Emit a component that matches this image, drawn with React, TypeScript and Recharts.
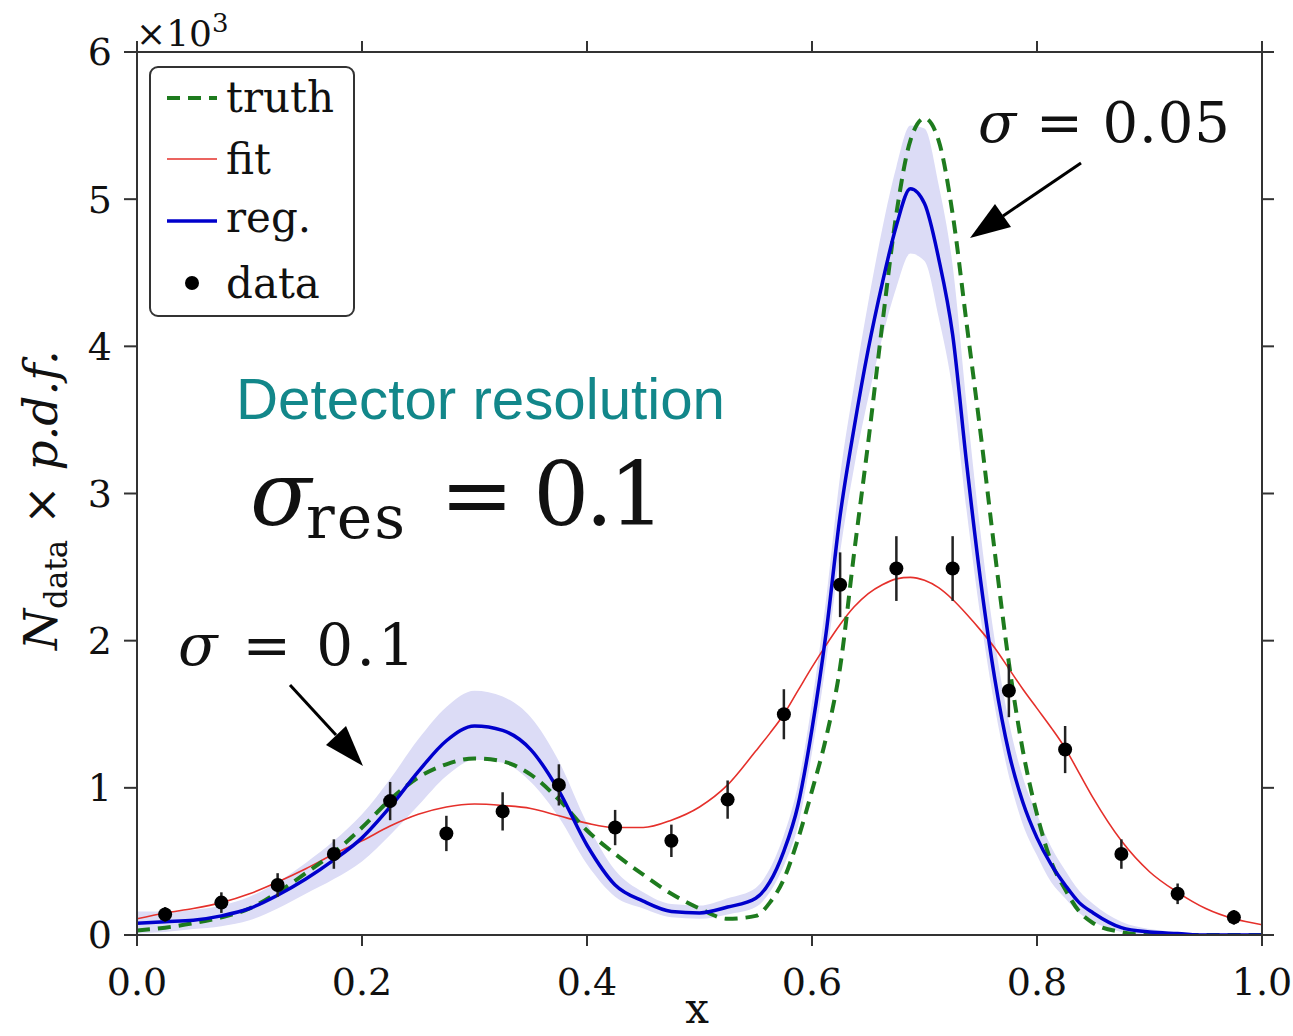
import React from "react";
import {
  Area,
  ComposedChart,
  ErrorBar,
  Legend,
  Line,
  Scatter,
  XAxis,
  YAxis,
} from "recharts";

// curve sampling grid (finer around the narrow peak)
const xGrid = [
  0, 0.025, 0.05, 0.075, 0.1, 0.125, 0.15, 0.175, 0.2, 0.225, 0.25, 0.275,
  0.3, 0.325, 0.35, 0.375, 0.4, 0.425, 0.45, 0.475, 0.5, 0.525, 0.55,
  0.5625, 0.575, 0.5875, 0.6, 0.6125, 0.625, 0.6375, 0.65, 0.6625, 0.675,
  0.6875, 0.7, 0.7125, 0.725, 0.7375, 0.75, 0.7625, 0.775, 0.7875, 0.8,
  0.8125, 0.825, 0.8375, 0.85, 0.875, 0.9, 0.925, 0.95, 0.975, 1.0,
];

const truthVals = [
  0.03, 0.05, 0.08, 0.12, 0.18, 0.29, 0.42, 0.56, 0.73, 0.92, 1.07, 1.16,
  1.2, 1.18, 1.09, 0.92, 0.71, 0.55, 0.41, 0.28, 0.18, 0.11, 0.13,
  0.22, 0.38, 0.65, 0.98, 1.34, 1.82, 2.6, 3.35, 4.15, 4.9,
  5.4, 5.55, 5.4, 4.9, 4.15, 3.4, 2.6, 1.85, 1.25, 0.82,
  0.5, 0.31, 0.16, 0.08, 0.02, 0, 0, 0, 0, 0,
];

const fitVals = [
  0.11, 0.15, 0.18, 0.22, 0.28, 0.36, 0.45, 0.55, 0.64, 0.74, 0.82, 0.87,
  0.89, 0.88, 0.86, 0.81, 0.76, 0.73, 0.73, 0.78, 0.87, 1.02, 1.25,
  1.37, 1.5, 1.66, 1.82, 1.97, 2.11, 2.23, 2.32, 2.38, 2.42,
  2.43, 2.41, 2.36, 2.28, 2.18, 2.07, 1.95, 1.81, 1.67, 1.54,
  1.41, 1.27, 1.1, 0.93, 0.64, 0.43, 0.29, 0.18, 0.11, 0.07,
];

const regVals = [
  0.08, 0.09, 0.1, 0.13, 0.18, 0.27, 0.38, 0.51, 0.66, 0.87, 1.11, 1.32,
  1.42, 1.39, 1.26, 0.98, 0.61, 0.34, 0.23, 0.16, 0.15, 0.19, 0.25,
  0.36, 0.57, 0.88, 1.4, 2.05, 2.85, 3.45, 3.98, 4.43, 4.82,
  5.07, 4.97, 4.6, 4.08, 3.2, 2.4, 1.74, 1.24, 0.9, 0.66,
  0.48, 0.34, 0.22, 0.15, 0.05, 0.02, 0.01, 0, 0, 0,
];

const regLo = [
  0.01, 0.02, 0.04, 0.06, 0.1, 0.18, 0.28, 0.38, 0.5, 0.68, 0.88, 1.08,
  1.19, 1.17, 1.04, 0.8, 0.48, 0.26, 0.18, 0.12, 0.11, 0.14, 0.19,
  0.29, 0.47, 0.74, 1.24, 1.85, 2.6, 3.18, 3.65, 4.06, 4.4,
  4.63, 4.58, 4.2, 3.7, 2.88, 2.15, 1.55, 1.08, 0.75, 0.54,
  0.36, 0.25, 0.15, 0.09, 0.02, 0, 0, 0, 0, 0,
];

const regHi = [
  0.16, 0.16, 0.17, 0.2, 0.26, 0.36, 0.49, 0.64, 0.82, 1.06, 1.33, 1.55,
  1.66, 1.62, 1.48, 1.18, 0.76, 0.44, 0.29, 0.21, 0.2, 0.25, 0.32,
  0.45, 0.68, 1.02, 1.58, 2.28, 3.12, 3.74, 4.3, 4.8, 5.22,
  5.5, 5.48, 5.1, 4.55, 3.6, 2.72, 2.0, 1.45, 1.07, 0.82,
  0.6, 0.44, 0.3, 0.21, 0.09, 0.04, 0.02, 0.01, 0.01, 0.01,
];

// binned data with errors
const dataX = [
  0.025, 0.075, 0.125, 0.175, 0.225, 0.275, 0.325, 0.375, 0.425, 0.475,
  0.525, 0.575, 0.625, 0.675, 0.725, 0.775, 0.825, 0.875, 0.925, 0.975,
];
const dataY = [
  0.14, 0.22, 0.34, 0.55, 0.91, 0.69, 0.84, 1.02, 0.73, 0.64,
  0.92, 1.5, 2.38, 2.49, 2.49, 1.66, 1.26, 0.55, 0.28, 0.12,
];
const dataErr = [
  0.05, 0.07, 0.08, 0.1, 0.13, 0.12, 0.13, 0.14, 0.12, 0.11,
  0.13, 0.17, 0.22, 0.22, 0.22, 0.18, 0.16, 0.1, 0.07, 0.05,
];

const xTicks = [0, 0.2, 0.4, 0.6, 0.8, 1.0];
const yTicks = [0, 1, 2, 3, 4, 5, 6];

const curves = xGrid.map((x, i) => ({
  x,
  truth: truthVals[i],
  fit: fitVals[i],
  reg: regVals[i],
  band: [regLo[i], regHi[i]],
}));

const points = dataX.map((x, i) => ({ x, y: dataY[i], err: dataErr[i] }));

const SERIF = "DejaVu Serif";
const AXIS = "#333";

const DataDot = (p: any) => <circle cx={p.cx} cy={p.cy} r={7} fill="#000" />;

function LegendBox() {
  return (
    <svg width={206} height={251} style={{ display: "block" }}>
      <rect x={1} y={1} width={204} height={249} rx={8} fill="#fff" stroke={AXIS} strokeWidth={2} />
      <line x1={18} y1={32} x2={68} y2={32} stroke="#1e7b1e" strokeWidth={4} strokeDasharray="13 8" />
      <line x1={18} y1={93} x2={68} y2={93} stroke="#e5302b" strokeWidth={1.6} />
      <line x1={18} y1={155} x2={68} y2={155} stroke="#0000cc" strokeWidth={3.5} />
      <circle cx={43} cy={217} r={7} fill="#000" />
      <g fontFamily={SERIF} fontSize={42} fill="#111">
        <text x={77} y={46}>truth</text>
        <text x={77} y={108}>fit</text>
        <text x={77} y={166}>reg.</text>
        <text x={77} y={232}>data</text>
      </g>
    </svg>
  );
}

function Overlay() {
  return (
    <svg
      width={1293}
      height={1036}
      style={{ position: "absolute", left: 0, top: 0, pointerEvents: "none" }}
    >
      {/* exponent */}
      <text x={136} y={46} fontFamily={SERIF} fontSize={36} fill="#111">
        ×10<tspan fontSize={26} dy={-14}>3</tspan>
      </text>

      {/* axis titles */}
      <text
        transform="translate(57,500) rotate(-90)"
        textAnchor="middle"
        fontFamily={SERIF}
        fontSize={47}
        fill="#111"
        textLength={300}
        lengthAdjust="spacing"
      >
        <tspan fontStyle="italic">N</tspan>
        <tspan fontSize={31} dy={10}>data</tspan>
        <tspan dy={-10}> × </tspan>
        <tspan fontStyle="italic">p.d.f.</tspan>
      </text>
      <text x={697} y={1023} textAnchor="middle" fontFamily={SERIF} fontSize={42} fill="#111">
        x
      </text>

      {/* annotations */}
      <text x={978} y={142} fontFamily={SERIF} fontSize={56} fill="#111" textLength={252} lengthAdjust="spacing">
        <tspan fontStyle="italic">σ</tspan> = 0.05
      </text>
      <line x1={1081} y1={163} x2={1003} y2={216} stroke="#000" strokeWidth={3} />
      <polygon points="970,238 1011,227 995,204" fill="#000" />

      <text x={236} y={419} fontFamily="Liberation Sans" fontSize={57} fill="#12878a" textLength={489} lengthAdjust="spacingAndGlyphs">
        Detector resolution
      </text>

      <text x={250} y={525} fontFamily={SERIF} fontSize={90} fontStyle="italic" fill="#111">
        σ
      </text>
      <text x={306} y={538} fontFamily={SERIF} fontSize={60} fill="#111" textLength={99} lengthAdjust="spacing">
        res
      </text>
      <text x={440} y={525} fontFamily={SERIF} fontSize={88} fill="#111" textLength={225} lengthAdjust="spacing">
        = 0.1
      </text>

      <text x={178} y={665} fontFamily={SERIF} fontSize={58} fill="#111" textLength={237} lengthAdjust="spacing">
        <tspan fontStyle="italic">σ</tspan> = 0.1
      </text>
      <line x1={290} y1={685} x2={336} y2={735} stroke="#000" strokeWidth={3} />
      <polygon points="363,766 326,745 346,726" fill="#000" />
    </svg>
  );
}

export default function App() {
  return (
    <div style={{ position: "absolute", left: 0, top: 0, width: 1293, height: 1036, background: "#fff" }}>
      <ComposedChart
        width={1293}
        height={1036}
        data={curves}
        margin={{ top: 51, right: 30, bottom: 41, left: 0 }}
      >
        <XAxis
          dataKey="x"
          type="number"
          domain={[0, 1]}
          ticks={xTicks}
          allowDataOverflow
          tickFormatter={(v: number) => v.toFixed(1)}
          height={60}
          tickSize={11}
          tickMargin={22}
          stroke={AXIS}
          strokeWidth={2}
          tick={{ fill: "#111", fontSize: 38, fontFamily: SERIF }}
        />
        <XAxis
          xAxisId="top"
          orientation="top"
          dataKey="x"
          type="number"
          domain={[0, 1]}
          ticks={xTicks}
          allowDataOverflow
          tickFormatter={() => ""}
          height={1}
          tickSize={11}
          stroke={AXIS}
          strokeWidth={2}
        />
        <YAxis
          type="number"
          domain={[0, 6]}
          ticks={yTicks}
          allowDataOverflow
          width={137}
          tickSize={13}
          tickMargin={12}
          stroke={AXIS}
          strokeWidth={2}
          tick={{ fill: "#111", fontSize: 38, fontFamily: SERIF }}
        />
        <YAxis
          yAxisId="right"
          orientation="right"
          type="number"
          domain={[0, 6]}
          ticks={yTicks}
          allowDataOverflow
          width={1}
          tickSize={12}
          tickFormatter={() => ""}
          stroke={AXIS}
          strokeWidth={2}
        />
        <Area
          dataKey="band"
          type="monotone"
          stroke="none"
          fill="#dcdcf6"
          fillOpacity={1}
          isAnimationActive={false}
        />
        <Line
          dataKey="fit"
          type="monotone"
          stroke="#e5302b"
          strokeWidth={1.6}
          dot={false}
          isAnimationActive={false}
        />
        <Line
          dataKey="truth"
          type="monotone"
          stroke="#1e7b1e"
          strokeWidth={4}
          strokeDasharray="13 8"
          dot={false}
          isAnimationActive={false}
        />
        <Line
          dataKey="reg"
          type="monotone"
          stroke="#0000cc"
          strokeWidth={3.5}
          dot={false}
          isAnimationActive={false}
        />
        <Scatter
          data={points}
          dataKey="y"
          xAxisId="top"
          yAxisId="right"
          shape={DataDot}
          isAnimationActive={false}
        >
          <ErrorBar dataKey="err" direction="y" width={0} stroke="#222" strokeWidth={2.5} />
        </Scatter>
        <Legend
          layout="horizontal"
          verticalAlign="middle"
          align="center"
          wrapperStyle={{ left: 149, top: 66, width: 206, height: 251 }}
          content={() => <LegendBox />}
        />
      </ComposedChart>
      <Overlay />
    </div>
  );
}
